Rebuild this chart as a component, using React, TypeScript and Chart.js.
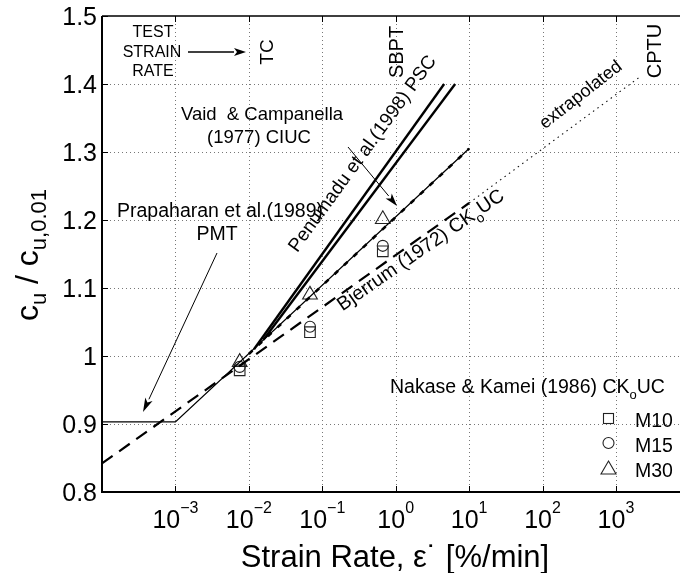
import React, { useEffect, useRef } from 'react';
import { Chart, registerables } from 'chart.js';

Chart.register(...registerables);

// ---- axes ----
const decadeExponents = [-4, -3, -2, -1, 0, 1, 2, 3, 4];
const labelExponents = [-3, -2, -1, 0, 1, 2, 3];
const yTickValues = [0.8, 0.9, 1.0, 1.1, 1.2, 1.3, 1.4, 1.5];
const yTickLabels = ['0.8', '0.9', '1', '1.1', '1.2', '1.3', '1.4', '1.5'];

// ---- curves ----
// Prapaharan et al. (1989) PMT
const prapaharanX = [0.0001, 0.001, 10];
const prapaharanY = [0.903, 0.903, 1.305];
// Vaid & Campanella (1977) CIUC
const vaidX = [0.01, 10];
const vaidY = [1.003, 1.305];
// Penumadu et al. (1998) PSC
const penumaduAX = [0.01175, 4.571];
const penumaduAY = [1.01, 1.4];
const penumaduBX = [0.0158, 6.457];
const penumaduBY = [1.024, 1.4];
// Bjerrum (1972) CKoUC
const bjerrumX = [0.0001, 10];
const bjerrumY = [0.842, 1.225];
const extrapolatedX = [10, 2089];
const extrapolatedY = [1.225, 1.41];

// ---- Nakase & Kamei (1986) CKoUC ----
const testRates = [0.0075, 0.068, 0.667];
const m10 = [0.979, 1.035, 1.154];
const m15 = [0.984, 1.043, 1.162];
const m30 = [0.991, 1.09, 1.201];

const FONT = '"Liberation Sans", Arial, Helvetica, sans-serif';

type Part = { t: string; s: number; dy?: number };

const toPts = (xs: number[], ys: number[]) => xs.map((x, i) => ({ x, y: ys[i] }));

function setFont(ctx: CanvasRenderingContext2D, size: number) {
  ctx.font = `${size}px ${FONT}`;
}

function rich(ctx: CanvasRenderingContext2D, parts: Part[], x: number, y: number, align: 'left' | 'center' | 'right') {
  let w = 0;
  for (const p of parts) {
    setFont(ctx, p.s);
    w += ctx.measureText(p.t).width;
  }
  let cx = align === 'left' ? x : align === 'center' ? x - w / 2 : x - w;
  ctx.textAlign = 'left';
  ctx.textBaseline = 'alphabetic';
  for (const p of parts) {
    setFont(ctx, p.s);
    ctx.fillText(p.t, cx, y + (p.dy || 0));
    cx += ctx.measureText(p.t).width;
  }
}

function rotated(ctx: CanvasRenderingContext2D, x: number, y: number, deg: number, fn: () => void) {
  ctx.save();
  ctx.translate(x, y);
  ctx.rotate((deg * Math.PI) / 180);
  fn();
  ctx.restore();
}

function arrow(ctx: CanvasRenderingContext2D, x1: number, y1: number, x2: number, y2: number, head: number, halfW: number, lw: number) {
  const ang = Math.atan2(y2 - y1, x2 - x1);
  const bx = x2 - Math.cos(ang) * head;
  const by = y2 - Math.sin(ang) * head;
  ctx.save();
  ctx.strokeStyle = '#000';
  ctx.fillStyle = '#000';
  ctx.lineWidth = lw;
  ctx.setLineDash([]);
  ctx.beginPath();
  ctx.moveTo(x1, y1);
  ctx.lineTo(bx, by);
  ctx.stroke();
  ctx.beginPath();
  ctx.moveTo(x2, y2);
  ctx.lineTo(bx + Math.sin(ang) * halfW, by - Math.cos(ang) * halfW);
  ctx.lineTo(x2 - Math.cos(ang) * head * 0.75, y2 - Math.sin(ang) * head * 0.75);
  ctx.lineTo(bx - Math.sin(ang) * halfW, by + Math.cos(ang) * halfW);
  ctx.closePath();
  ctx.fill();
  ctx.restore();
}

const decorPlugin = {
  id: 'decor',
  beforeDatasetsDraw(chart: any) {
    const { ctx, chartArea: a, scales } = chart;
    const xs = scales.x;
    const ys = scales.y;
    ctx.save();
    ctx.strokeStyle = '#777';
    ctx.lineWidth = 1;
    ctx.setLineDash([1, 3]);
    for (const e of decadeExponents) {
      const px = Math.round(xs.getPixelForValue(Math.pow(10, e))) + 0.5;
      if (px <= a.left + 2 || px >= a.right - 2) continue;
      ctx.beginPath();
      ctx.moveTo(px, a.top);
      ctx.lineTo(px, a.bottom);
      ctx.stroke();
    }
    for (const v of yTickValues) {
      const py = Math.round(ys.getPixelForValue(v)) + 0.5;
      if (py <= a.top + 2 || py >= a.bottom - 2) continue;
      ctx.beginPath();
      ctx.moveTo(a.left, py);
      ctx.lineTo(a.right, py);
      ctx.stroke();
    }
    ctx.restore();
  },
  afterDraw(chart: any) {
    const { ctx, chartArea: a, scales } = chart;
    const xs = scales.x;
    const ys = scales.y;
    ctx.save();
    ctx.fillStyle = '#000';
    ctx.strokeStyle = '#000';
    ctx.setLineDash([]);

    // frame
    ctx.lineWidth = 2;
    ctx.beginPath();
    ctx.moveTo(a.left, a.top);
    ctx.lineTo(a.left, a.bottom);
    ctx.lineTo(a.right, a.bottom);
    ctx.stroke();
    ctx.lineWidth = 1.5;
    ctx.beginPath();
    ctx.moveTo(a.left, a.top);
    ctx.lineTo(a.right, a.top);
    ctx.lineTo(a.right, a.bottom);
    ctx.stroke();

    // tick marks (inward)
    ctx.lineWidth = 1;
    for (const e of decadeExponents) {
      const px = Math.round(xs.getPixelForValue(Math.pow(10, e))) + 0.5;
      ctx.beginPath();
      ctx.moveTo(px, a.bottom);
      ctx.lineTo(px, a.bottom - 6);
      ctx.moveTo(px, a.top);
      ctx.lineTo(px, a.top + 6);
      ctx.stroke();
    }
    for (const v of yTickValues) {
      const py = Math.round(ys.getPixelForValue(v)) + 0.5;
      ctx.beginPath();
      ctx.moveTo(a.left, py);
      ctx.lineTo(a.left + 6, py);
      ctx.stroke();
    }

    // y tick labels
    setFont(ctx, 25);
    ctx.textAlign = 'right';
    ctx.textBaseline = 'alphabetic';
    yTickValues.forEach((v, i) => {
      const py = ys.getPixelForValue(v);
      ctx.fillText(yTickLabels[i], a.left - 5, py + 9);
    });

    // x tick labels
    for (const e of labelExponents) {
      const px = xs.getPixelForValue(Math.pow(10, e));
      const exp = e < 0 ? '\u2212' + Math.abs(e) : String(e);
      rich(ctx, [{ t: '10', s: 25 }, { t: exp, s: 16, dy: -15 }], px, a.bottom + 36, 'center');
    }

    // x axis title
    rich(
      ctx,
      [
        { t: 'Strain Rate, \u03B5', s: 31 },
        { t: '\u02D9', s: 31 },
        { t: ' [%/min]', s: 31 },
      ],
      395,
      567,
      'center'
    );

    // y axis title
    rotated(ctx, 38, 255, -90, () => {
      rich(
        ctx,
        [
          { t: 'c', s: 32 },
          { t: 'u', s: 22, dy: 8 },
          { t: ' / ', s: 32 },
          { t: 'c', s: 32 },
          { t: 'u,0.01', s: 22, dy: 8 },
        ],
        0,
        0,
        'center'
      );
    });

    // TEST STRAIN RATE
    setFont(ctx, 16);
    ctx.textAlign = 'center';
    ctx.textBaseline = 'alphabetic';
    ctx.fillText('TEST', 153, 37);
    ctx.fillText('STRAIN', 152, 57);
    ctx.fillText('RATE', 153, 76);
    arrow(ctx, 188, 52, 246, 52, 12, 4, 1.3);

    // vertical labels
    const vlabel = (t: string, x: number, y: number, s: number) =>
      rotated(ctx, x, y, -90, () => {
        setFont(ctx, s);
        ctx.textAlign = 'center';
        ctx.textBaseline = 'alphabetic';
        ctx.fillText(t, 0, 0);
      });
    vlabel('TC', 273, 52, 19);
    vlabel('SBPT', 403, 52, 20);
    vlabel('CPTU', 661, 51, 20);

    // Vaid & Campanella
    setFont(ctx, 18.5);
    ctx.textAlign = 'center';
    ctx.fillText('Vaid  & Campanella', 262, 120);
    ctx.fillText('(1977) CIUC', 259, 143);
    arrow(ctx, 348, 147, 397, 206, 13, 4, 1);

    // Prapaharan
    setFont(ctx, 19.5);
    ctx.textAlign = 'center';
    ctx.fillText('Prapaharan et al.(1989)', 220, 217);
    ctx.fillText('PMT', 217, 240);
    arrow(ctx, 217, 253, 143, 412, 14, 4, 1);

    // Penumadu
    rotated(ctx, 367, 157, -54, () => {
      setFont(ctx, 19);
      ctx.textAlign = 'center';
      ctx.textBaseline = 'alphabetic';
      ctx.fillText('Penumadu et al.(1998) PSC', 0, 0);
    });

    // Bjerrum
    rotated(ctx, 424, 255, -34.7, () => {
      rich(
        ctx,
        [
          { t: 'Bjerrum (1972) CK', s: 19.5 },
          { t: 'o', s: 13.5, dy: 6 },
          { t: 'UC', s: 19.5 },
        ],
        0,
        0,
        'center'
      );
    });

    // extrapolated
    rotated(ctx, 584, 99, -38, () => {
      setFont(ctx, 18);
      ctx.textAlign = 'center';
      ctx.textBaseline = 'alphabetic';
      ctx.fillText('extrapolated', 0, 0);
    });

    // legend
    rich(
      ctx,
      [
        { t: 'Nakase & Kamei (1986) CK', s: 19.5 },
        { t: 'o', s: 13, dy: 6 },
        { t: 'UC', s: 19.5 },
      ],
      390,
      393,
      'left'
    );
    setFont(ctx, 19.5);
    ctx.textAlign = 'left';
    ctx.fillText('M10', 635, 427);
    ctx.fillText('M15', 635, 452);
    ctx.fillText('M30', 635, 477);
    ctx.strokeStyle = '#222';
    ctx.lineWidth = 1.1;
    ctx.strokeRect(603.5, 413.5, 10, 10);
    ctx.beginPath();
    ctx.arc(608.5, 443, 5.5, 0, Math.PI * 2);
    ctx.stroke();
    ctx.beginPath();
    ctx.moveTo(608.5, 461);
    ctx.lineTo(616, 474);
    ctx.lineTo(601, 474);
    ctx.closePath();
    ctx.stroke();

    ctx.restore();
  },
};

export default function App() {
  const ref = useRef<HTMLCanvasElement | null>(null);
  useEffect(() => {
    if (!ref.current) return;
    const line = (xs: number[], ys: number[], width: number, dash: number[], color = '#000') => ({
      data: toPts(xs, ys),
      showLine: true,
      borderColor: color,
      borderWidth: width,
      borderDash: dash,
      pointRadius: 0,
      fill: false,
    });
    const marks = (ys: number[], style: string, r: number) => ({
      data: toPts(testRates, ys),
      showLine: false,
      pointStyle: style,
      pointRadius: r,
      pointBorderColor: '#222',
      pointBackgroundColor: 'rgba(0,0,0,0)',
      pointBorderWidth: 1.1,
    });
    const chart = new Chart(ref.current, {
      type: 'scatter',
      data: {
        datasets: [
          line(bjerrumX, bjerrumY, 2.2, [13, 8]),
          line(extrapolatedX, extrapolatedY, 1.1, [1.5, 4], '#111'),
          line(prapaharanX, prapaharanY, 1.3, []),
          line(vaidX, vaidY, 2.6, [5, 8]),
          line(penumaduAX, penumaduAY, 2.4, []),
          line(penumaduBX, penumaduBY, 2.4, []),
          marks(m10, 'rect', 7.5),
          marks(m15, 'circle', 5.5),
          marks(m30, 'triangle', 8.5),
        ] as any,
      },
      options: {
        animation: false,
        responsive: false,
        layout: { padding: { left: 102, top: 16, right: 10.6, bottom: 81 } },
        plugins: { legend: { display: false }, tooltip: { enabled: false } },
        scales: {
          x: { type: 'logarithmic', min: 0.0001, max: 10000, display: false },
          y: { type: 'linear', min: 0.8, max: 1.5, display: false },
        },
      } as any,
      plugins: [decorPlugin],
    });
    return () => chart.destroy();
  }, []);
  return (
    <div
      style={{
        position: 'absolute',
        left: 0,
        top: 0,
        width: 680,
        height: 573,
        overflow: 'hidden',
        background: '#fff',
      }}
    >
      <canvas ref={ref} width={700} height={573} style={{ display: 'block' }} />
    </div>
  );
}
